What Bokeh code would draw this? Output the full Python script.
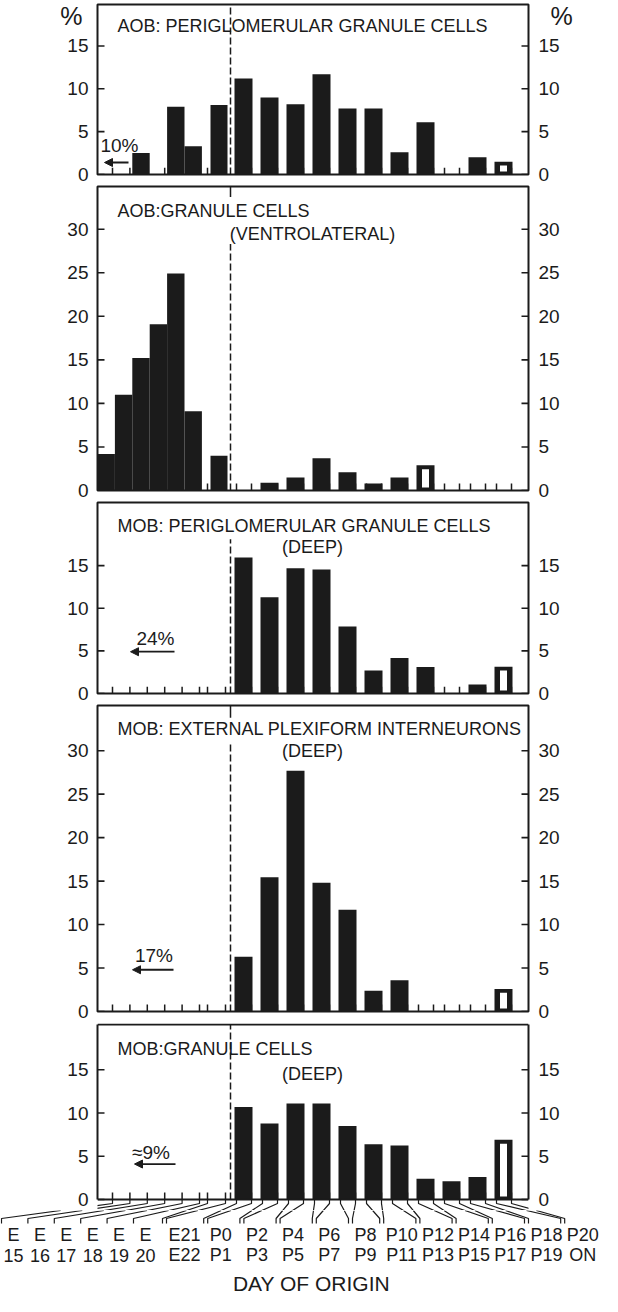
from bokeh.plotting import figure
from bokeh.models import Range1d, LinearAxis, FixedTicker, Label, Arrow, NormalHead
from bokeh.layouts import column
from bokeh.embed import file_html
from bokeh.resources import INLINE
from bokeh.core.properties import value

FONT = "Liberation Sans"
INK = "#1b1b1b"

# ---------------- data ----------------
# 18 injection-day slots (top line / bottom line of each x label)
label_top = ["E", "E", "E", "E", "E", "E", "E21", "P0", "P2", "P4", "P6", "P8",
             "P10", "P12", "P14", "P16", "P18", "P20"]
label_bot = ["15", "16", "17", "18", "19", "20", "E22", "P1", "P3", "P5", "P7", "P9",
             "P11", "P13", "P15", "P17", "P19", "ON"]

# % of labelled cells per slot
aob_pg = [0, 0, 2.5, 0, 7.9, 3.3, 8.1, 11.2, 9.0, 8.2, 11.7, 7.7, 7.7, 2.6, 6.1, 0, 2.0, 1.5]
aob_gc = [4.2, 11.0, 15.2, 19.1, 24.9, 9.1, 4.0, 0, 0.9, 1.5, 3.7, 2.1, 0.8, 1.5, 2.9, 0, 0, 0]
mob_pg = [0, 0, 0, 0, 0, 0, 0, 15.95, 11.3, 14.7, 14.55, 7.85, 2.7, 4.15, 3.1, 0, 1.05, 3.15]
mob_epl = [0, 0, 0, 0, 0, 0, 0, 6.3, 15.45, 27.7, 14.8, 11.7, 2.4, 3.6, 0, 0, 0, 2.6]
mob_gc = [0, 0, 0, 0, 0, 0, 0, 10.7, 8.8, 11.1, 11.1, 8.5, 6.4, 6.25, 2.4, 2.1, 2.6, 6.9]

panel_values = [aob_pg, aob_gc, mob_pg, mob_epl, mob_gc]
panel_hollow = [17, 14, 17, 17, 17]          # slot drawn as open bar
panel_title1 = ["AOB: PERIGLOMERULAR GRANULE CELLS", "AOB:GRANULE CELLS",
                "MOB: PERIGLOMERULAR GRANULE CELLS", "MOB: EXTERNAL PLEXIFORM INTERNEURONS",
                "MOB:GRANULE CELLS"]
panel_title2 = [None, "(VENTROLATERAL)", "(DEEP)", "(DEEP)", "(DEEP)"]
panel_early = ["10%", None, "24%", "17%", "\u22489%"]
ticks_small = [0, 5, 10, 15]
ticks_large = [0, 5, 10, 15, 20, 25, 30]
panel_ticks = [ticks_small, ticks_large, ticks_small, ticks_large, ticks_small]
unit_label = "%"
x_title = "DAY OF ORIGIN"

# ---------------- layout ----------------
FIG_W = 602
BORDER_L, BORDER_R = 97, 74
FRAME_W = FIG_W - BORDER_L - BORDER_R
E_W = 17.4
DASH_X = 133.0
BELOW = 11          # px of the last frame below its baseline
TICK_LEN = 7
LAB_FONT = 18

layout = [
    dict(ymax=19.84, frame_h=170, top=4, bottom=11, t1=17.36, t2=None,
         early=(22, 3.4, 1.4, 7, 31), dashed=(0, 19.84), stub=None, unit_y=18.9),
    dict(ymax=34.9, frame_h=304, top=1, bottom=11, t1=32.1, t2=29.4,
         early=None, dashed=(0, 28.3), stub=(33.7, 34.9), unit_y=None),
    dict(ymax=22.4, frame_h=191, top=1, bottom=11, t1=19.6, t2=17.2,
         early=(58, 6.5, 4.9, 33, 77), dashed=(0, 18.1), stub=None, unit_y=None),
    dict(ymax=35.2, frame_h=306, top=1, bottom=11, t1=32.5, t2=30.0,
         early=(56.5, 6.4, 4.8, 35, 76), dashed=(0, 30.7), stub=(33.8, 35.2), unit_y=None),
    dict(ymax=20.35, frame_h=176, top=1, bottom=0, t1=17.4, t2=14.5,
         early=(53.5, 5.4, 4.1, 37, 78), dashed=(0, 20.3), stub=None, unit_y=None),
]


def slot_span(k):
    if k < 6:
        return E_W * k, E_W * (k + 1)
    if k == 6:
        return 113.0, 130.0
    j = k - 7
    return 137.0 + 26 * j, 155.0 + 26 * j


def slot_ticks(k):
    if k < 6:
        return [15.0 + E_W * k]
    if k == 6:
        return [110.0, 128.0]
    l, r = slot_span(k)
    return [l + 2, l + 17]


# x labels: centres, text widths and leader stubs (px units, 0 = frame left)
CW = {"E": .667, "P": .667, "O": .778, "N": .722}


def text_w(s, size):
    return sum(CW.get(c, .556) for c in s) * size


centers = [(-84 + 26.4 * k) if k < 6 else (87 + 36.2 * (k - 6)) for k in range(len(label_top))]
leaders = []   # (tick x, stub x)
for k in range(len(label_top)):
    hw = max(text_w(label_top[k], LAB_FONT), text_w(label_bot[k], LAB_FONT)) / 2
    s0 = centers[k] - hw - 2
    tk = slot_ticks(k)
    for n, t in enumerate(tk):
        leaders.append((t, s0 - 4 * (len(tk) - 1 - n)))
# leader path below the baseline, in px: tick down 4, diagonal to 19, stub to 24
LD_TICK, LD_DIAG, LD_STUB = 4, 19, 24


def style_axis(ax, ticks, standoff, line, size="19px"):
    ax.ticker = FixedTicker(ticks=ticks)
    ax.major_tick_in = 0
    ax.major_tick_out = 0
    ax.major_tick_line_color = None
    ax.minor_tick_line_color = None
    ax.major_label_text_font = FONT
    ax.major_label_text_font_size = size
    ax.major_label_text_color = INK
    ax.major_label_standoff = standoff
    if line is None:
        ax.axis_line_color = None
    else:
        ax.axis_line_color = INK
        ax.axis_line_width = 2
        ax.bounds = line


def make_panel(idx):
    L = layout[idx]
    vals = panel_values[idx]
    last = idx == len(layout) - 1
    ppu = L["frame_h"] / L["ymax"]
    ymin = -BELOW / ppu if last else 0
    fh = L["frame_h"] + (BELOW if last else 0)
    p = figure(width=FIG_W, height=L["top"] + fh + L["bottom"],
               x_range=Range1d(0, FRAME_W), y_range=Range1d(ymin, L["ymax"]),
               x_axis_type=None, toolbar_location=None, output_backend="svg",
               min_border_left=BORDER_L, min_border_right=BORDER_R,
               min_border_top=L["top"], min_border_bottom=L["bottom"])
    p.ygrid.visible = False
    p.background_fill_color = "white"
    p.border_fill_color = "white"
    top_line = L["ymax"] - 1.0 / ppu
    if last:
        p.outline_line_color = None
        bounds = (0, top_line)
    else:
        p.outline_line_color = INK
        p.outline_line_width = 2
        bounds = None
    ticks = list(panel_ticks[idx])
    style_axis(p.yaxis[0], ticks, 9, bounds)
    rax = LinearAxis()
    style_axis(rax, ticks, 10, bounds)
    p.add_layout(rax, "right")
    if L["unit_y"] is not None:
        # outer axes carrying only the unit sign
        for side, so in (("left", -18), ("right", -12)):
            ua = LinearAxis()
            style_axis(ua, [L["unit_y"]], so, None, size="25px")
            ua.major_label_overrides = {L["unit_y"]: unit_label}
            p.add_layout(ua, side)

    # inward y ticks on both sides
    yt = panel_ticks[idx]
    p.segment(x0=[0] * len(yt) + [FRAME_W - TICK_LEN] * len(yt), y0=yt + yt,
              x1=[TICK_LEN] * len(yt) + [FRAME_W] * len(yt), y1=yt + yt,
              line_color=INK, line_width=1.6)

    # small day ticks on the baseline
    tx = [t for k in range(len(label_top)) for t in slot_ticks(k)]
    p.segment(x0=tx, y0=[0] * len(tx), x1=tx, y1=[0.8] * len(tx),
              line_color=INK, line_width=1.5)

    # bars
    fl, fr, ft = [], [], []
    for k, v in enumerate(vals):
        if v > 0:
            l, r = slot_span(k)
            fl.append(l); fr.append(r); ft.append(v)
    p.quad(left=fl, right=fr, top=ft, bottom=0, fill_color=INK, line_color=None)
    h = panel_hollow[idx]
    if vals[h] > 0:
        l, r = slot_span(h)
        c = (l + r) / 2
        p.quad(left=[c - 3.5], right=[c + 3.5], top=[vals[h] - 0.45], bottom=[0.35],
               fill_color="white", line_color=None)

    if last:
        # frame lines (this frame extends below the baseline)
        p.segment(x0=[0, 0], y0=[0, top_line], x1=[FRAME_W, FRAME_W], y1=[0, top_line],
                  line_color=INK, line_width=2)
        # start of the leader lines towards the x labels
        xs, ys = [], []
        f = (BELOW - LD_TICK) / (LD_DIAG - LD_TICK)
        for t, s in leaders:
            xs.append([t, t, t + (s - t) * f])
            ys.append([0, -LD_TICK / ppu, ymin])
        p.multi_line(xs=xs, ys=ys, line_color=INK, line_width=1.2)

    # birth line
    d0, d1 = L["dashed"]
    p.segment(x0=[DASH_X], y0=[d0], x1=[DASH_X], y1=[d1], line_color=INK,
              line_width=1.5, line_dash="7 3")
    if L["stub"] is not None:
        s0, s1 = L["stub"]
        p.segment(x0=[DASH_X], y0=[s0], x1=[DASH_X], y1=[s1], line_color=INK, line_width=1.5)

    # titles
    p.add_layout(Label(x=20, y=L["t1"], text=panel_title1[idx], text_font=FONT,
                       text_font_size="18px", text_color=INK, text_baseline="middle"))
    if panel_title2[idx]:
        p.add_layout(Label(x=215, y=L["t2"], text=panel_title2[idx], text_font=FONT,
                           text_font_size="18px", text_color=INK, text_baseline="middle",
                           text_align="center"))
    # earlier-than-E15 percentage with arrow
    if panel_early[idx]:
        tx_, ty_, ay, ax0, ax1 = L["early"]
        p.add_layout(Label(x=tx_, y=ty_, text=panel_early[idx], text_font=FONT,
                           text_font_size="19px", text_color=INK, text_baseline="middle",
                           text_align="center"))
        p.add_layout(Arrow(end=NormalHead(size=8, fill_color=INK, line_color=INK, line_width=1),
                           x_start=ax1, y_start=ay, x_end=ax0, y_end=ay,
                           line_color=INK, line_width=1.8))
    return p


panels = [make_panel(i) for i in range(len(layout))]

# ---------------- x labels with leader lines (own root, full-width frame) ----------------
LAB_H = 86
lab = figure(width=FIG_W, height=LAB_H, x_range=Range1d(-BORDER_L, FRAME_W + BORDER_R),
             y_range=Range1d(-LAB_H, 0), x_axis_type=None, y_axis_type=None,
             toolbar_location=None, output_backend="svg",
             min_border_left=0, min_border_right=0, min_border_top=0, min_border_bottom=0)
lab.outline_line_color = None
lab.grid.visible = False
lab.background_fill_color = "white"
lab.border_fill_color = "white"

f = (BELOW - LD_TICK) / (LD_DIAG - LD_TICK)
xs = [[t + (s - t) * f, s, s] for t, s in leaders]
ys = [[0, -(LD_DIAG - BELOW), -(LD_STUB - BELOW)] for _ in leaders]
lab.multi_line(xs=xs, ys=ys, line_color=INK, line_width=1.2)
lab.text(x=centers, y=[-24.5] * len(centers), text=label_top, text_font=value(FONT),
         text_font_size=value("%dpx" % LAB_FONT), text_color=INK, text_align="center",
         text_baseline="middle")
lab.text(x=centers, y=[-44.5] * len(centers), text=label_bot, text_font=value(FONT),
         text_font_size=value("%dpx" % LAB_FONT), text_color=INK, text_align="center",
         text_baseline="middle")
lab.text(x=[214], y=[-73], text=[x_title], text_font=value(FONT),
         text_font_size=value("21px"), text_color=INK, text_align="center",
         text_baseline="middle")

page = column(*panels, spacing=0)
open("out.html", "w").write(file_html([page, lab], INLINE))
